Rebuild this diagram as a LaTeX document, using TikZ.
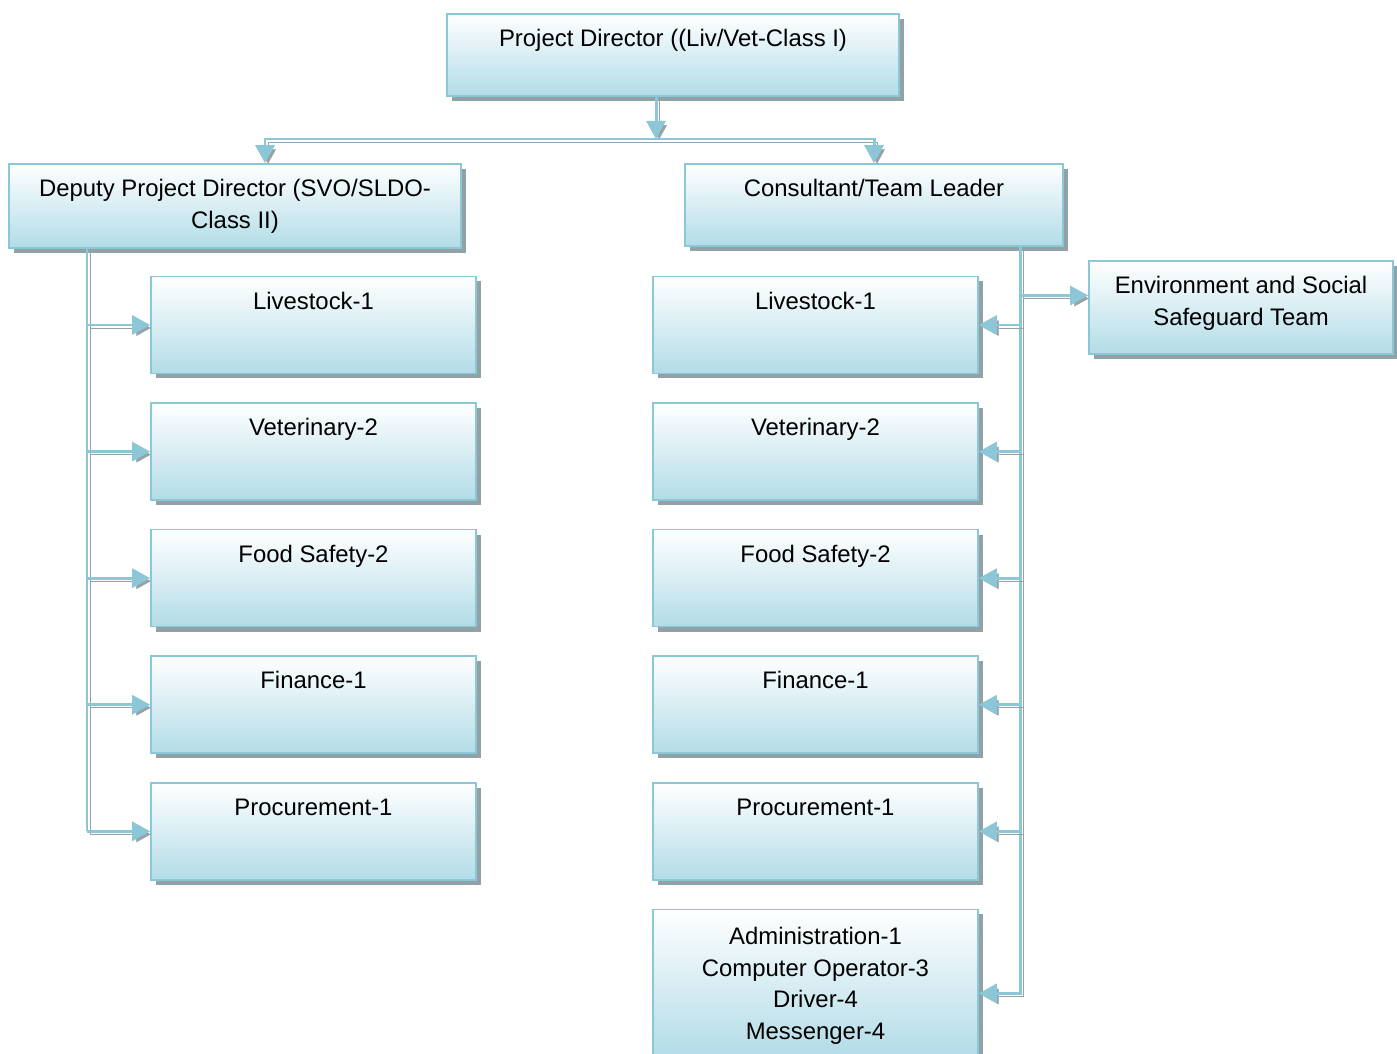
\documentclass[tikz,border=0pt]{standalone}
\usepackage{fontspec}
\setmainfont{Liberation Sans}
\usetikzlibrary{positioning,shadows,arrows.meta}
\definecolor{boxline}{RGB}{138,199,215}
\definecolor{boxfill}{RGB}{178,220,231}
\definecolor{boxshadow}{RGB}{146,161,166}
\definecolor{connblue}{RGB}{140,199,216}
\definecolor{connshadow}{RGB}{150,162,167}

\begin{document}
\begin{tikzpicture}[>={Triangle[length=0.36cm,width=0.38cm]},node distance=0.56cm,
                    font=\fontsize{13.6}{18.1}\selectfont]
   \tikzstyle{box}=[draw=boxline,line width=0.9pt,top color=white,bottom color=boxfill,
                    drop shadow={shadow xshift=0.1cm,shadow yshift=-0.1cm,fill=boxshadow,opacity=1},
                    minimum width=6.5cm,minimum height=1.94cm,inner sep=0pt]
   \tikzstyle{txt}=[anchor=base,align=center,inner sep=0pt]
   \tikzstyle{connline}=[draw=connblue,line width=1.7pt,
                    preaction={draw=connshadow,transform canvas={shift={(0.06cm,-0.06cm)}}}]
   \tikzstyle{conn}=[connline,->]
   \useasboundingbox (0,0) rectangle (27.94,-21.08);

   \node[box,minimum width=9.04cm,minimum height=1.64cm] (pd)  at (13.46,-1.10) {};
   \node[box,minimum width=9.04cm,minimum height=1.68cm] (dpd) at (4.70,-4.12)  {};
   \node[box,minimum width=7.56cm,minimum height=1.64cm] (ctl) at (17.48,-4.10) {};
   \node[box,minimum width=6.08cm,minimum height=1.86cm] (ess) at (24.82,-6.15) {};

   \node[box] (llv) at (6.27,-6.50)  {};
   \node[box] (lvt) [below=of llv]   {};
   \node[box] (lfs) [below=of lvt]   {};
   \node[box] (lfi) [below=of lfs]   {};
   \node[box] (lpr) [below=of lfi]   {};

   \node[box] (rlv) at (16.31,-6.50) {};
   \node[box] (rvt) [below=of rlv]   {};
   \node[box] (rfs) [below=of rvt]   {};
   \node[box] (rfi) [below=of rfs]   {};
   \node[box] (rpr) [below=of rfi]   {};
   \node[box,minimum height=2.92cm] (adm) [below=of rpr] {};

   % base of a multi-line text is its last line
   \node[txt] (pdt)  at ([yshift=-0.67cm]pd.north)  {Project Director ((Liv/Vet-Class I)};
   \node[txt] (dpdt) at ([yshift=-1.31cm]dpd.north) {Deputy Project Director (SVO/SLDO-\\Class II)};
   \node[txt] (ctlt) at ([yshift=-0.67cm]ctl.north) {Consultant/Team Leader};
   \node[txt] (esst) at ([yshift=-1.31cm]ess.north) {Environment and Social\\Safeguard Team};
   \node[txt] (llvt) at ([yshift=-0.67cm]llv.north) {Livestock-1};
   \node[txt] (lvtt) at ([yshift=-0.67cm]lvt.north) {Veterinary-2};
   \node[txt] (lfst) at ([yshift=-0.67cm]lfs.north) {Food Safety-2};
   \node[txt] (lfit) at ([yshift=-0.67cm]lfi.north) {Finance-1};
   \node[txt] (lprt) at ([yshift=-0.67cm]lpr.north) {Procurement-1};
   \node[txt] (rlvt) at ([yshift=-0.67cm]rlv.north) {Livestock-1};
   \node[txt] (rvtt) at ([yshift=-0.67cm]rvt.north) {Veterinary-2};
   \node[txt] (rfst) at ([yshift=-0.67cm]rfs.north) {Food Safety-2};
   \node[txt] (rfit) at ([yshift=-0.67cm]rfi.north) {Finance-1};
   \node[txt] (rprt) at ([yshift=-0.67cm]rpr.north) {Procurement-1};
   \node[txt] (admt) at ([yshift=-2.62cm]adm.north) {Administration-1\\Computer Operator-3\\Driver-4\\Messenger-4};

   \coordinate (fk) at (13.12,-2.78);
   \coordinate (lt) at (1.74,-5.00);
   \coordinate (rt) at (20.40,-5.00);

   \draw[conn] (pd.south -| fk) -- (fk);
   \draw[conn] (fk) -| ([xshift=0.6cm]dpd.north);
   \draw[conn] (fk) -| (ctl.north);

   \draw[connline] (dpd.south -| lt) -- (lt |- lpr.west);
   \draw[conn] (lt |- llv.west) -- (llv.west);
   \draw[conn] (lt |- lvt.west) -- (lvt.west);
   \draw[conn] (lt |- lfs.west) -- (lfs.west);
   \draw[conn] (lt |- lfi.west) -- (lfi.west);
   \draw[conn] (lt |- lpr.west) -- (lpr.west);

   \draw[conn] (ctl.south -| rt) |- ([yshift=-0.22cm]adm.east);
   \draw[conn] ([yshift=0.24cm]ess.west -| rt) -- ([yshift=0.24cm]ess.west);
   \draw[conn] (rt |- rlv.east) -- (rlv.east);
   \draw[conn] (rt |- rvt.east) -- (rvt.east);
   \draw[conn] (rt |- rfs.east) -- (rfs.east);
   \draw[conn] (rt |- rfi.east) -- (rfi.east);
   \draw[conn] (rt |- rpr.east) -- (rpr.east);
\end{tikzpicture}
\end{document}
